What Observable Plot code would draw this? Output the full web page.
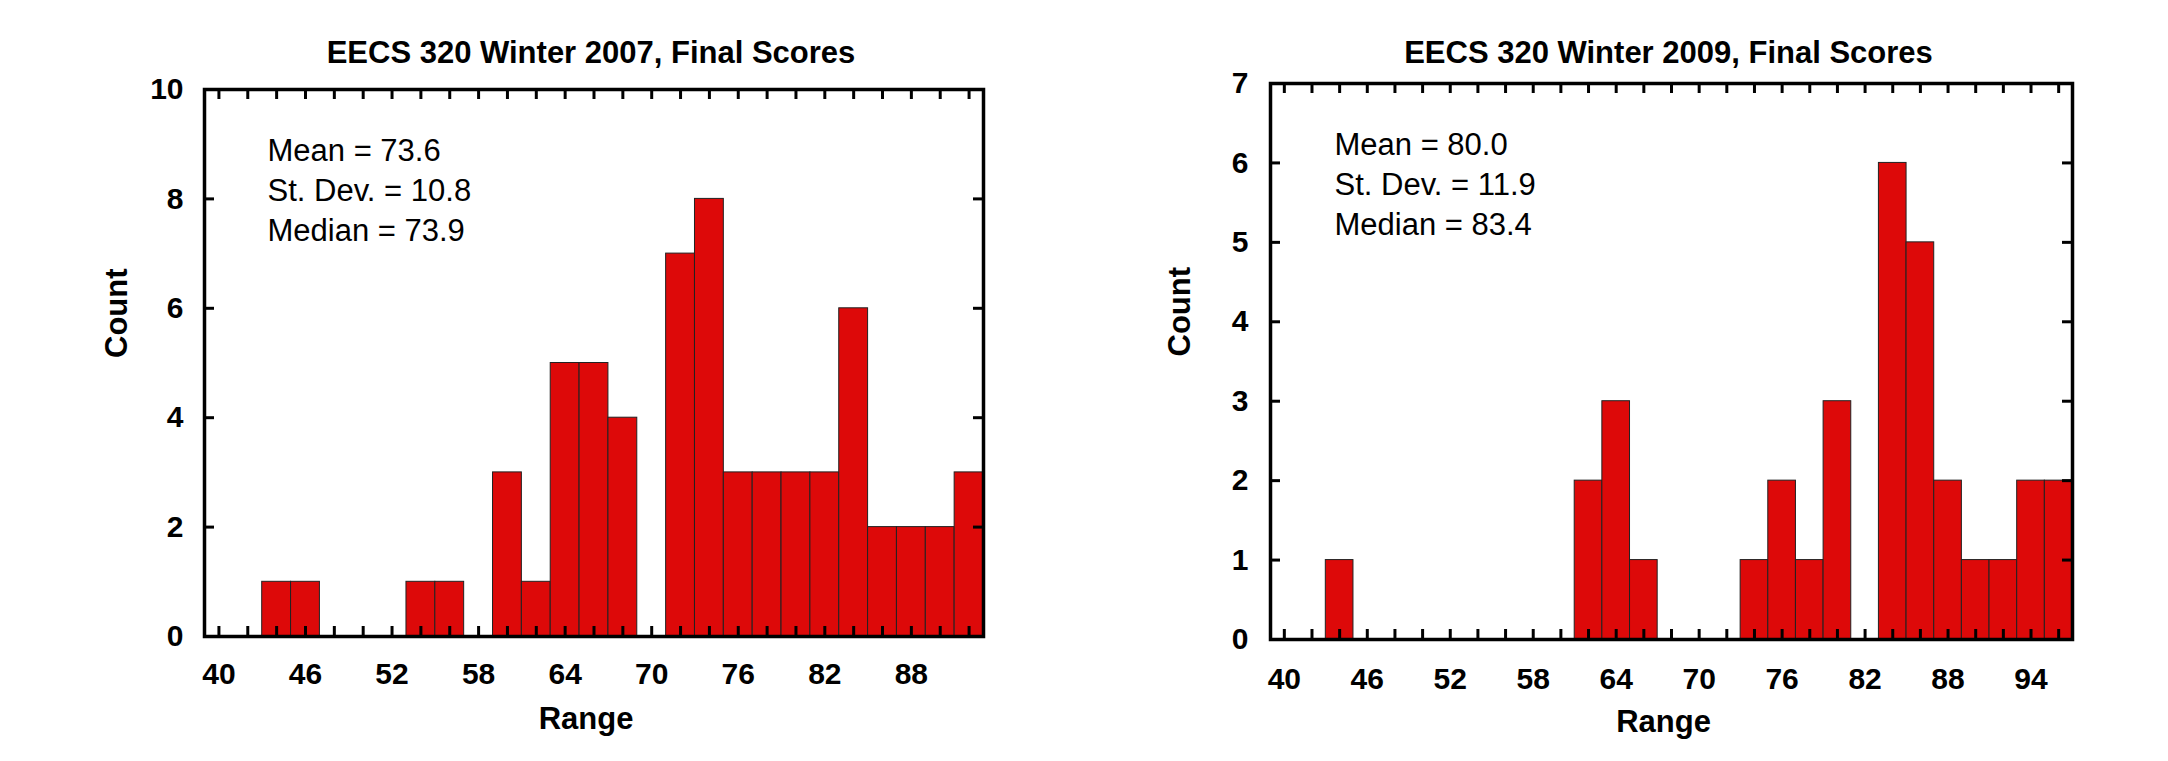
<!DOCTYPE html>
<html><head><meta charset="utf-8">
<script src="https://cdn.jsdelivr.net/npm/d3@7"></script>
<script src="https://cdn.jsdelivr.net/npm/@observablehq/plot@0.6"></script>
<style>
html,body{margin:0;padding:0;background:#fff;}
#row{display:flex;width:2168px;height:761px;overflow:hidden;}
#row svg{flex:none;}
</style></head><body><div id="row"></div>
<script>
// ---- data ----
const bins2007 = [44,46,54,56,60,62,64,66,68,72,74,76,78,80,82,84,86,88,90,92];
const counts2007 = [1,1,1,1,3,1,5,5,4,7,8,3,3,3,3,6,2,2,2,3];
const bins2009 = [44,62,64,66,74,76,78,80,84,86,88,90,92,94,96];
const counts2009 = [1,2,3,1,1,2,1,3,6,5,2,1,1,2,2];
const binWidth = 2;
const xDomain2007 = [39,93];
const xDomain2009 = [39,97];
const yDomain2007 = [0,10];
const yDomain2009 = [0,7];
const xTickLabels2007 = [40,46,52,58,64,70,76,82,88];
const xTickLabels2009 = [40,46,52,58,64,70,76,82,88,94];
const xMinorTicks2007 = [40,42,44,46,48,50,52,54,56,58,60,62,64,66,68,70,72,74,76,78,80,82,84,86,88,90,92];
const xMinorTicks2009 = [40,42,44,46,48,50,52,54,56,58,60,62,64,66,68,70,72,74,76,78,80,82,84,86,88,90,92,94,96];
const yTicks2007 = [0,2,4,6,8,10];
const yTicks2009 = [0,1,2,3,4,5,6,7];
const title2007 = "EECS 320 Winter 2007, Final Scores";
const title2009 = "EECS 320 Winter 2009, Final Scores";
const stats2007 = ["Mean = 73.6","St. Dev. = 10.8","Median = 73.9"];
const stats2009 = ["Mean = 80.0","St. Dev. = 11.9","Median = 83.4"];
const xLabelText = "Range";
const yLabelText = "Count";

const FONT = "'Liberation Sans', Arial, Helvetica, sans-serif";

function chart(c) {
  const W = 1084, H = 761;
  const fw = W - c.ml - c.mr, fh = H - c.mt - c.mb;
  const data = c.bins.map((b, i) => ({x1: b - binWidth / 2, x2: b + binWidth / 2, count: c.counts[i]}));
  return Plot.plot({
    width: W, height: H,
    marginLeft: c.ml, marginRight: c.mr, marginTop: c.mt, marginBottom: c.mb,
    style: {fontFamily: FONT, background: "#fff", overflow: "visible", color: "#000"},
    x: {domain: c.xDomain},
    y: {domain: c.yDomain},
    marks: [
      Plot.rectY(data, {x1: "x1", x2: "x2", y: "count", fill: "#dd0909", stroke: "#222", strokeWidth: 1}),
      Plot.ruleX(c.xMinor, {x: d => d, insetTop: fh - 10, strokeWidth: 3, stroke: "#000"}),
      Plot.ruleX(c.xMinor, {x: d => d, insetBottom: fh - 10, strokeWidth: 3, stroke: "#000"}),
      Plot.ruleY(c.yTicks, {y: d => d, insetRight: fw - 10, strokeWidth: 3, stroke: "#000"}),
      Plot.ruleY(c.yTicks, {y: d => d, insetLeft: fw - 10, strokeWidth: 3, stroke: "#000"}),
      Plot.frame({stroke: "#000", strokeWidth: 3.5}),
      Plot.axisX({ticks: c.xLabels, tickSize: 0, tickPadding: c.xPad, fontSize: 30, fontWeight: "bold", label: null, tickFormat: d => String(d)}),
      Plot.axisY({ticks: c.yTicks, tickSize: 0, tickPadding: c.yPad, fontSize: 30, fontWeight: "bold", label: null, tickFormat: d => String(d)}),
      Plot.text([c.title], {text: d => d, frameAnchor: "top", dx: -3, dy: c.titleDy, lineAnchor: "bottom", fontSize: 31, fontWeight: "bold"}),
      Plot.text([c.stats.join("\n")], {text: d => d, frameAnchor: "top-left", textAnchor: "start", lineAnchor: "top", dx: c.statsDx, dy: c.statsDy, lineHeight: 1.29, fontSize: 31}),
      Plot.text([xLabelText], {text: d => d, frameAnchor: "bottom", dx: -8, dy: c.rangeDy, lineAnchor: "bottom", fontSize: 31, fontWeight: "bold"}),
      Plot.text([yLabelText], {text: d => d, frameAnchor: "left", rotate: -90, dx: c.countDx, dy: -5, fontSize: 31, fontWeight: "bold"})
    ]
  });
}

const row = document.getElementById("row");
row.appendChild(chart({
  bins: bins2007, counts: counts2007, xDomain: xDomain2007, yDomain: yDomain2007,
  xLabels: xTickLabels2007, xMinor: xMinorTicks2007, yTicks: yTicks2007,
  title: title2007, stats: stats2007,
  ml: 204, mr: 101, mt: 89, mb: 125,
  xPad: 26, yPad: 21, titleDy: -27, statsDx: 63, statsDy: 43, rangeDy: 92, countDx: -87
}));
row.appendChild(chart({
  bins: bins2009, counts: counts2009, xDomain: xDomain2009, yDomain: yDomain2009,
  xLabels: xTickLabels2009, xMinor: xMinorTicks2009, yTicks: yTicks2009,
  title: title2009, stats: stats2009,
  ml: 186, mr: 96, mt: 83, mb: 122,
  xPad: 28, yPad: 22, titleDy: -21, statsDx: 64, statsDy: 43, rangeDy: 92, countDx: -90
}));
</script>
</body></html>
